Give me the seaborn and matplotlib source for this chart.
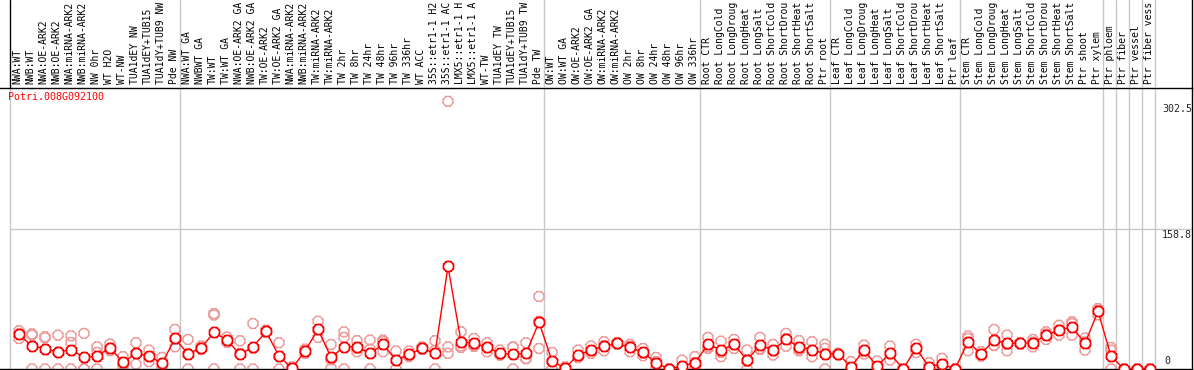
import numpy as np
import pandas as pd
import matplotlib
matplotlib.use("Agg")
import matplotlib.pyplot as plt
import matplotlib.transforms as mtrans
from matplotlib.path import Path
import seaborn as sns

# ---------------- data ----------------
title = "Potri.008G092100"

labels_g1 = ["NWA:WT", "NWB:WT", "NWA:OE-ARK2", "NWB:OE-ARK2", "NWA:miRNA-ARK2",
             "NWB:miRNA-ARK2", "NW 0hr", "WT H2O", "WT-NW", "TUA1dEY NW",
             "TUA1dEY+TUB15", "TUA1dY+TUB9 NW", "Pde NW"]
labels_g2 = ["NWA:WT GA", "NWBWT GA", "TW:WT", "TW:WT GA", "NWA:OE-ARK2 GA",
             "NWB:OE-ARK2 GA", "TW:OE-ARK2", "TW:OE-ARK2 GA", "NWA:miRNA-ARK2",
             "NWB:miRNA-ARK2", "TW:miRNA-ARK2", "TW:miRNA-ARK2", "TW 2hr", "TW 8hr",
             "TW 24hr", "TW 48hr", "TW 96hr", "TW 336hr", "WT ACC", "35S::etr1-1 H2",
             "35S::etr1-1 AC", "LMX5::etr1-1 H", "LMX5::etr1-1 A", "WT-TW",
             "TUA1dEY TW", "TUA1dEY+TUB15", "TUA1dY+TUB9 TW", "Pde TW"]
labels_g3 = ["OW:WT", "OW:WT GA", "OW:OE-ARK2", "OW:OE-ARK2 GA", "OW:miRNA-ARK2",
             "OW:miRNA-ARK2", "OW 2hr", "OW 8hr", "OW 24hr", "OW 48hr", "OW 96hr",
             "OW 336hr"]
labels_g4 = ["Root CTR", "Root LongCold", "Root LongDroug", "Root LongHeat",
             "Root LongSalt", "Root ShortCold", "Root ShortDrou", "Root ShortHeat",
             "Root ShortSalt", "Ptr root"]
labels_g5 = ["Leaf CTR", "Leaf LongCold", "Leaf LongDroug", "Leaf LongHeat",
             "Leaf LongSalt", "Leaf ShortCold", "Leaf ShortDrou", "Leaf ShortHeat",
             "Leaf ShortSalt", "Ptr leaf"]
labels_g6 = ["Stem CTR", "Stem LongCold", "Stem LongDroug", "Stem LongHeat",
             "Stem LongSalt", "Stem ShortCold", "Stem ShortDrou", "Stem ShortHeat",
             "Stem ShortSalt", "Ptr shoot", "Ptr xylem"]
labels_g7 = ["Ptr phloem", "Ptr fiber", "Ptr vessel", "Ptr fiber vess"]

means = [39, 26, 23, 19, 22, 13, 14.6, 24, 7.5, 17.6, 14.6, 6.4, 34.5,
         17, 24, 41.3, 32.7, 16.5, 25, 42.4, 14.6, 0.8, 20.3, 44.7, 13, 25, 25, 17.7,
         27.8, 10, 16.5, 23.2, 17.7, 116, 30.8, 29, 24.4, 17.7, 16.5, 17.7, 53,
         9, 0.8, 15.8, 21.4, 25.9, 29, 24.4, 18.7, 7.1, 0, 3.4, 7.1,
         28, 21.4, 28, 10, 27, 21.4, 33.4, 25, 22, 17,
         17, 2.6, 21.4, 3, 17.7, 0, 23.2, 2.6, 5.6, 0,
         30.8, 16.9, 32.7, 29, 29, 29.6, 38.3, 43.9, 47.6, 29, 65.3,
         14.6, 0, 0, 0]

rep1 = [43.2, 38.3, 36.4, 38.3, 37.5, 40.2, 18.7, 28.2, 13.9, 29.7, 21.4, 13.1, 44.7,
        33.4, 22, 62.7, 30, 31.9, 51.4, 44, 29.7, 0, 22.5, 54, 27.8, 42, 32, 32.7,
        32.7, 20.3, 20.3, 25, 32, 302.5, 42, 34.5, 29.6, 21.4, 25, 29.6, 82,
        18.7, 0, 21.4, 25.9, 30.8, 28, 28, 23.2, 13, 0, 10, 13.9,
        35.7, 31.5, 33.4, 21.4, 35.7, 27.8, 40.2, 32, 30.8, 28,
        17, 8.3, 27, 0, 25.9, 0, 28, 7, 12, 0,
        34.5, 19.5, 44.7, 38.3, 29, 33.4, 42, 49.5, 53.3, 21.4, 68.3,
        24.4, 0, 0, 0]
rep2 = [34.5, 0, 35.3, 0, 30, 0, 0, 20.6, 5.6, 5.6, 8.3, 6, 25.1,
        0, 24, 0, 36, 0, 0, 42, 0, 0, 17.7, 44.5, 0.8, 35.7, 23.5, 22.5,
        19.5, 0, 13.9, 22.5, 0, 25, 24.4, 27, 19.5, 15.8, 0, 12, 23.2,
        0, 0, 13, 17.7, 20.6, 29, 19.5, 15, 0, 0, 0, 0,
        25, 13.9, 23.2, 0, 23.2, 15.8, 25.9, 20.6, 13.9, 23.2,
        16, 0, 17, 0, 17, 0, 23, 0, 0, 0,
        20.6, 14.6, 27, 20.6, 28, 25, 33.4, 38.3, 38.3, 35, 66.4,
        21.4, 0, 0, 0]
rep3 = [39.5, 39.7, 0, 19, 0, 0, 25, 23.5, 3, 17.5, 14, 0, 33.7,
        17.6, 26, 61, 32, 17.6, 23.6, 41.2, 14.1, 2.4, 20.7, 35.7, 10.4, 0, 19.5, 0,
        31, 9.7, 15.3, 22, 21, 17.7, 26, 25.5, 24, 16, 24.5, 11.5, 54,
        8.3, 2.4, 13, 20.6, 26.3, 30, 25.7, 18, 8.3, 0, 0.2, 7.4,
        23.3, 18.8, 27.4, 8.6, 22.1, 20.6, 34.1, 22.4, 21.3, 0,
        18, 0, 20.2, 9, 10.2, 0, 18.6, 0.8, 4.8, 0,
        37.3, 16.6, 26.4, 28.1, 30, 30.4, 39.5, 43.9, 51.2, 30.6, 61.2,
        0, 0, 0, 0]

group_last = [12, 40, 52, 62, 72, 83, 84, 85, 86, 87]
tick_max = 302.5
tick_mid = 158.8

# ---------------- build ----------------
labels = labels_g1 + labels_g2 + labels_g3 + labels_g4 + labels_g5 + labels_g6 + labels_g7
n = len(labels)
idx = np.arange(n)
df_mean = pd.DataFrame({"idx": idx, "value": means})
df_rep = pd.DataFrame({"idx": np.concatenate([idx, idx, idx]),
                       "value": rep1 + rep2 + rep3})

sns.set_style("white")
plt.rcParams["font.family"] = ["DejaVu Sans Mono", "DejaVu Sans"]

W, H = 1194, 370
fig = plt.figure(figsize=(W / 100, H / 100), dpi=100)
fig.patch.set_facecolor("white")

ax_right_px = 1192
ax = fig.add_axes([0, 1 / H, ax_right_px / W, 281 / H])
axh = fig.add_axes([0, 282 / H, ax_right_px / W, 88 / H], sharex=ax)

x0 = -19 / 13
x1 = (ax_right_px - 19) / 13
ax.set_xlim(x0, x1)
ax.set_ylim(0, 2 * tick_mid)
axh.set_ylim(0, 1)

# sparkle circle marker
circ = Path.unit_circle()
verts, codes = [], []
for a in np.deg2rad(np.arange(0, 360, 45) + 22.5):
    verts += [(np.cos(a) * 1.0, np.sin(a) * 1.0), (np.cos(a) * 1.2, np.sin(a) * 1.2)]
    codes += [Path.MOVETO, Path.LINETO]
spark = Path.make_compound_path(circ, Path(verts, codes))

gray = "#c8c8c8"
# separators
sep_x = [g + 0.385 for g in group_last]
for s in sep_x:
    ax.axvline(s, color=gray, lw=1, zorder=0)
    axh.axvline(s, color=gray, lw=1, zorder=0)
left_x = (10 - 19) / 13
ax.axvline(left_x, color=gray, lw=1, zorder=0)
axh.axvline(left_x, color="black", lw=1, zorder=0)
ax.axhline(tick_mid, xmin=(10) / ax_right_px, xmax=1, color=gray, lw=1, zorder=0)

# replicates
sns.scatterplot(data=df_rep, x="idx", y="value", ax=ax, marker=spark, s=62,
                facecolors="none", edgecolors="#ec9a9a", linewidth=1.0,
                zorder=2, legend=False, clip_on=False)
# mean line
sns.lineplot(data=df_mean, x="idx", y="value", ax=ax, color="red", lw=1,
             zorder=3, legend=False)
sns.scatterplot(data=df_mean, x="idx", y="value", ax=ax, marker=spark, s=66,
                facecolors="white", edgecolors="red", linewidth=1.2,
                zorder=4, legend=False, clip_on=False)

# header labels
tr = mtrans.blended_transform_factory(axh.transData, axh.transAxes)
for i, lab in enumerate(labels):
    axh.text(i - 0.1, 0.045, lab, rotation=90, ha="center", va="bottom",
             fontsize=7.0, color="black", transform=tr)

# title and value labels
ax.text(8 / ax_right_px, (369 - 97) / 281, title, transform=ax.transAxes,
        color="red", fontsize=7.2, ha="left", va="center")
ytr = mtrans.blended_transform_factory(ax.transAxes, ax.transData)
xl = 1162 / ax_right_px
ax.annotate(f"{tick_max}", (xl, tick_max), xycoords=ytr, xytext=(0, -2),
            textcoords="offset points", fontsize=7.2, va="top", ha="left")
ax.annotate(f"{tick_mid}", (xl, tick_mid), xycoords=ytr, xytext=(0, -1),
            textcoords="offset points", fontsize=7.2, va="top", ha="left")
ax.annotate("0", (1164 / ax_right_px, 0), xycoords=ytr, xytext=(0, 2),
            textcoords="offset points", fontsize=7.2, va="bottom", ha="left")

for a in (ax, axh):
    a.set_xticks([])
    a.set_yticks([])
    a.set_xlabel("")
    a.set_ylabel("")
    a.set_facecolor("none")
    for sp in a.spines.values():
        sp.set_color("black")
        sp.set_linewidth(1)
ax.spines["left"].set_visible(False)
axh.spines["left"].set_visible(False)
axh.spines["top"].set_visible(False)
axh.spines["bottom"].set_visible(False)

fig.savefig("out.png", dpi=100, facecolor="white")
